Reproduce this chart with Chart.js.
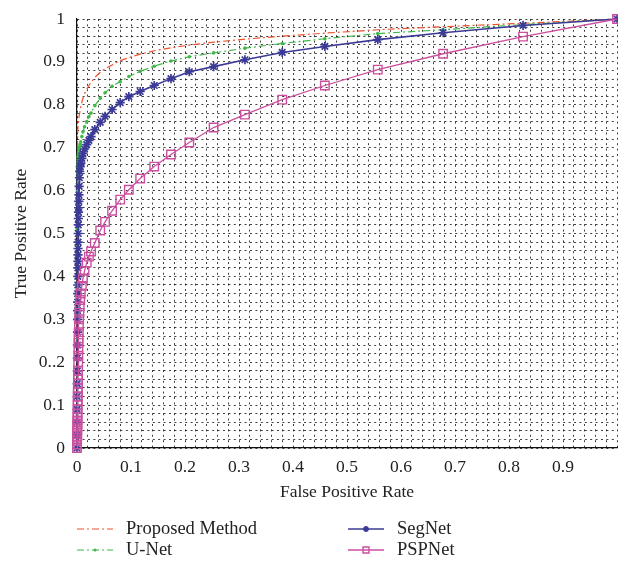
<!DOCTYPE html>
<html>
<head>
<meta charset="utf-8">
<script src="https://cdn.jsdelivr.net/npm/chart.js@4/dist/chart.umd.min.js"></script>
<style>
  html, body { margin: 0; padding: 0; background: #fff; }
  #roc { display: block; }
</style>
</head>
<body>
<canvas id="roc" width="618" height="567"></canvas>
<script>
// False positive rate thresholds (shared by all curves)
const FPR = [0, 0.0001, 0.0002, 0.0003, 0.0004, 0.0005, 0.0006, 0.0007, 0.0008, 0.0009,
  0.001, 0.0011, 0.0012, 0.0013, 0.0014, 0.0015, 0.0016, 0.0017, 0.0018, 0.0019,
  0.002, 0.0022, 0.0024, 0.0026, 0.0028, 0.003, 0.0033, 0.0036, 0.004, 0.0045,
  0.005, 0.006, 0.007, 0.009, 0.011, 0.014, 0.018, 0.022, 0.026, 0.033,
  0.043, 0.052, 0.065, 0.08, 0.096, 0.117, 0.143, 0.174, 0.208, 0.253,
  0.311, 0.38, 0.459, 0.557, 0.678, 0.826, 1];

const TPR_PROPOSED = [0, 0.15, 0.3, 0.4, 0.5, 0.56, 0.6, 0.635, 0.66, 0.68,
  0.7, 0.71, 0.72, 0.728, 0.735, 0.74, 0.743, 0.746, 0.748, 0.75,
  0.752, 0.755, 0.758, 0.761, 0.763, 0.765, 0.768, 0.771, 0.774, 0.778,
  0.781, 0.787, 0.795, 0.806, 0.815, 0.826, 0.836, 0.845, 0.852, 0.864,
  0.876, 0.884, 0.893, 0.903, 0.91, 0.918, 0.926, 0.933, 0.939, 0.946,
  0.953, 0.96, 0.967, 0.975, 0.982, 0.99, 1];

const TPR_UNET = [0, 0.06, 0.12, 0.18, 0.25, 0.31, 0.37, 0.42, 0.47, 0.51,
  0.55, 0.58, 0.6, 0.615, 0.63, 0.64, 0.648, 0.655, 0.66, 0.666,
  0.672, 0.677, 0.68, 0.683, 0.686, 0.688, 0.69, 0.693, 0.695, 0.699,
  0.702, 0.708, 0.714, 0.726, 0.737, 0.749, 0.761, 0.772, 0.781, 0.798,
  0.815, 0.828, 0.843, 0.854, 0.866, 0.878, 0.89, 0.902, 0.912, 0.921,
  0.932, 0.943, 0.954, 0.966, 0.975, 0.987, 1];

const TPR_SEGNET = [0, 0.03, 0.06, 0.09, 0.12, 0.15, 0.18, 0.21, 0.24, 0.27,
  0.3, 0.32, 0.34, 0.36, 0.38, 0.4, 0.42, 0.435, 0.45, 0.465,
  0.48, 0.5, 0.52, 0.535, 0.55, 0.56, 0.575, 0.59, 0.61, 0.63,
  0.645, 0.656, 0.664, 0.675, 0.687, 0.697, 0.707, 0.717, 0.726, 0.742,
  0.759, 0.773, 0.789, 0.805, 0.819, 0.831, 0.845, 0.861, 0.877, 0.889,
  0.905, 0.922, 0.936, 0.952, 0.968, 0.985, 1];

const TPR_PSPNET = [0, 0.008, 0.016, 0.024, 0.032, 0.04, 0.048, 0.056, 0.064, 0.072,
  0.08, 0.09, 0.1, 0.11, 0.12, 0.13, 0.14, 0.15, 0.16, 0.17,
  0.18, 0.2, 0.215, 0.23, 0.245, 0.255, 0.27, 0.285, 0.3, 0.315,
  0.33, 0.345, 0.36, 0.378, 0.395, 0.413, 0.432, 0.446, 0.458, 0.478,
  0.507, 0.527, 0.553, 0.579, 0.602, 0.628, 0.656, 0.684, 0.712, 0.747,
  0.777, 0.812, 0.845, 0.882, 0.919, 0.959, 1];

const SERIES_NAMES = ['Proposed Method', 'U-Net', 'SegNet', 'PSPNet'];
const X_TICK_LABELS = ['0', '0.1', '0.2', '0.3', '0.4', '0.5', '0.6', '0.7', '0.8', '0.9', ''];
const Y_TICK_LABELS = ['0', '0.1', '0..2', '0.3', '0.4', '0.5', '0.6', '0.7', '0.8', '0.9', '1'];

const FONT = "'Liberation Serif', 'Times New Roman', serif";

function toPoints(ys) {
  return FPR.map((x, i) => ({ x: x, y: ys[i] }));
}

function tickLabel(labels) {
  return function(value) {
    const k = Math.round(value * 50);
    return k % 5 === 0 ? labels[k / 5] : '';
  };
}

// legend drawn under the axis, two columns like the original figure
const rocLegend = {
  id: 'rocLegend',
  afterDraw(chart) {
    const ctx = chart.ctx;
    const slots = [
      { ds: 0, x: 77, y: 529 },
      { ds: 2, x: 348, y: 529 },
      { ds: 1, x: 77, y: 550 },
      { ds: 3, x: 348, y: 550 }
    ];
    ctx.save();
    slots.forEach(s => {
      const ds = chart.data.datasets[s.ds];
      ctx.strokeStyle = ds.borderColor;
      ctx.lineWidth = ds.borderWidth;
      ctx.setLineDash(ds.borderDash || []);
      ctx.beginPath();
      ctx.moveTo(s.x, s.y);
      ctx.lineTo(s.x + 36, s.y);
      ctx.stroke();
      ctx.setLineDash([]);
      if (ds.pointRadius > 0) {
        ctx.strokeStyle = ds.pointBorderColor;
        ctx.fillStyle = ds.pointBackgroundColor;
        ctx.lineWidth = ds.pointBorderWidth;
        Chart.helpers.drawPoint(ctx, {
          pointStyle: ds.pointStyle,
          radius: ds.legendRadius,
          rotation: 0,
          borderWidth: ds.pointBorderWidth
        }, s.x + 18, s.y);
      }
      ctx.fillStyle = '#222';
      ctx.font = '18.5px ' + FONT;
      ctx.textBaseline = 'middle';
      ctx.textAlign = 'left';
      ctx.fillText(SERIES_NAMES[s.ds], s.x + 49, s.y);
    });
    ctx.restore();
  }
};

const ctx = document.getElementById('roc').getContext('2d');
const rocChart = new Chart(ctx, {
  type: 'scatter',
  data: {
    datasets: [
      {
        label: SERIES_NAMES[0],
        data: toPoints(TPR_PROPOSED),
        showLine: true,
        borderColor: '#f0502d',
        borderWidth: 1.2,
        borderDash: [7, 3, 2, 3],
        pointRadius: 0,
        order: 3
      },
      {
        label: SERIES_NAMES[1],
        data: toPoints(TPR_UNET),
        showLine: true,
        borderColor: '#3fb84a',
        borderWidth: 1.2,
        borderDash: [7, 3, 2, 3],
        pointStyle: 'circle',
        pointRadius: 1.8,
        legendRadius: 1.5,
        pointBorderWidth: 0,
        pointBackgroundColor: '#3fb84a',
        pointBorderColor: '#3fb84a',
        order: 2
      },
      {
        label: SERIES_NAMES[2],
        data: toPoints(TPR_SEGNET),
        showLine: true,
        borderColor: '#3b3a96',
        borderWidth: 1.6,
        pointStyle: 'star',
        pointRadius: 4.6,
        legendRadius: 3,
        pointBorderWidth: 1.7,
        pointBackgroundColor: '#3b3a96',
        pointBorderColor: '#3b3a96',
        order: 1
      },
      {
        label: SERIES_NAMES[3],
        data: toPoints(TPR_PSPNET),
        showLine: true,
        borderColor: '#cc4f9f',
        borderWidth: 1.3,
        pointStyle: 'rect',
        pointRadius: 6,
        legendRadius: 4.2,
        pointBorderWidth: 1.4,
        pointBackgroundColor: 'rgba(255,255,255,0)',
        pointBorderColor: '#cc4f9f',
        order: 0
      }
    ]
  },
  options: {
    responsive: false,
    animation: false,
    clip: 8,
    layout: {
      autoPadding: false,
      padding: { top: 19, right: 1, bottom: 57, left: 0 }
    },
    plugins: {
      legend: { display: false },
      tooltip: { enabled: false }
    },
    scales: {
      x: {
        type: 'linear',
        min: 0,
        max: 1,
        afterFit: (scale) => { scale.height = 62; },
        border: { display: true, color: '#111', width: 1.2, dash: [2, 3.4] },
        grid: {
          color: 'rgba(0,0,0,0.75)',
          lineWidth: 1,
          drawTicks: true,
          tickLength: 9,
          tickColor: 'rgba(0,0,0,0)'
        },
        ticks: {
          stepSize: 0.02,
          autoSkip: false,
          maxRotation: 0,
          padding: 0,
          color: '#222',
          font: { family: FONT, size: 17.5 },
          callback: tickLabel(X_TICK_LABELS)
        },
        title: {
          display: true,
          text: 'False Positive Rate',
          color: '#222',
          font: { family: FONT, size: 17.5 },
          padding: { top: 0, bottom: 7 }
        }
      },
      y: {
        type: 'linear',
        min: 0,
        max: 1,
        afterFit: (scale) => { scale.width = 77; },
        border: { display: true, color: '#111', width: 1.2, dash: [2, 3.4] },
        grid: {
          color: 'rgba(0,0,0,0.75)',
          lineWidth: 1,
          drawTicks: true,
          tickLength: 12,
          tickColor: 'rgba(0,0,0,0)'
        },
        ticks: {
          stepSize: 0.02,
          autoSkip: false,
          padding: 0,
          color: '#222',
          font: { family: FONT, size: 17.5 },
          callback: tickLabel(Y_TICK_LABELS)
        },
        title: {
          display: true,
          text: 'True Positive Rate',
          color: '#222',
          font: { family: FONT, size: 17.5 },
          padding: { top: 11, bottom: 0 }
        }
      }
    }
  },
  plugins: [rocLegend]
});
</script>
</body>
</html>
